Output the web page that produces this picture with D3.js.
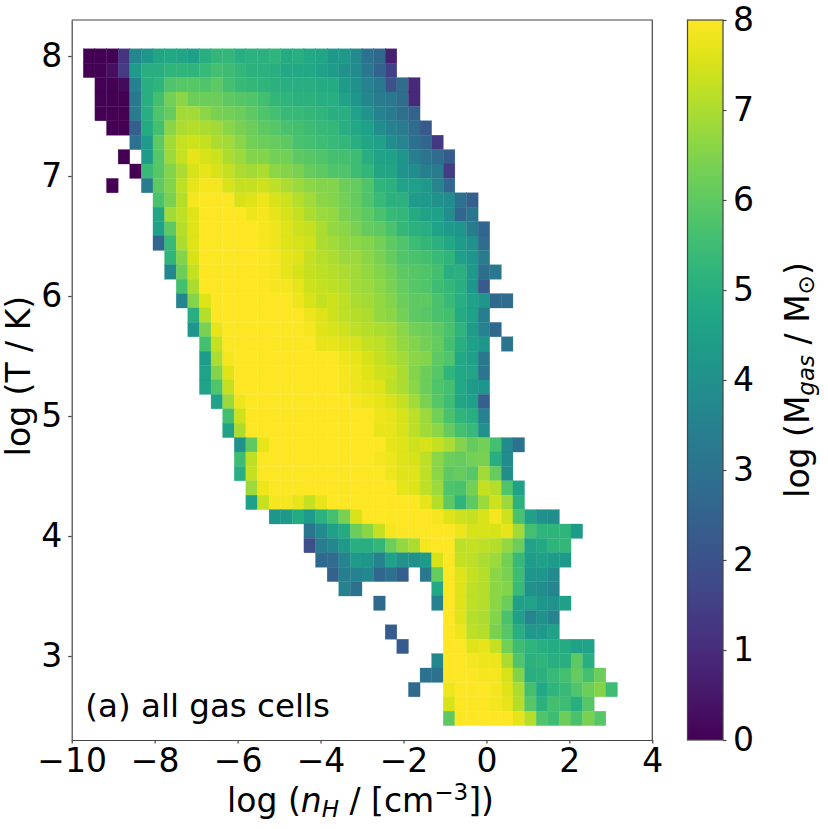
<!DOCTYPE html>
<html>
<head>
<meta charset="utf-8">
<script src="https://cdn.jsdelivr.net/npm/d3@7"></script>
<style>
body { margin: 0; background: #fff; }
text { font-family: "DejaVu Sans", sans-serif; fill: #000; }
.tick text { font-size: 33px; }
.domain, .tick line { stroke: #444; stroke-width: 1.2px; }
</style>
</head>
<body>
<div id="chart"></div>
<script>
// 2d histogram, 50x50 bins over the axis ranges
var xTicks = [-10, -8, -6, -4, -2, 0, 2, 4];
var yTicks = [3, 4, 5, 6, 7, 8];
var cbarTicks = [0, 1, 2, 3, 4, 5, 6, 7, 8];
var xRange = [-10, 4];
var yRange = [2.3, 8.3];
var nBins = 50;
var topRow = 47; // bin index (from the bottom) of the first row below

// first filled x bin of each row, top row first
var rowStart = [1,1,2,2,2,3,5,4,5,3,7,7,7,7,8,8,9,9,10,10,11,11,11,11,12,13,13,14,14,14,15,15,17,20,20,21,22,23,26,32,27,28,31,30,29,32,32];

// log gas mass per bin, null = empty bin
var r00 = [0,0,0,1.2,3.7,4.2,4.7,4.8,4.7,4.5,5.0,5.3,5.3,5.0,5.1,5.1,5.2,4.9,5.0,4.8,4.7,4.3,4.3,3.8,3.0,2.7,0.7];
var r01 = [0,0,0.3,1.4,4.4,5.0,5.0,5.2,5.2,5.2,5.4,5.6,5.5,5.3,5.1,5.1,5.0,4.8,4.8,4.8,4.6,4.4,4.0,3.8,3.2,2.5,1.5];
var r02 = [0,0,0.2,3.5,5.0,5.2,5.8,5.9,5.9,5.8,6.0,5.6,5.4,5.3,5.2,5.1,5.0,5.0,5.0,4.9,4.9,4.4,4.0,3.5,3.2,2.0,2.8,0.9];
var r03 = [0,0,0,3.2,5.0,5.6,6.3,6.6,6.2,6.2,6.2,6.0,5.9,5.8,5.6,5.3,5.2,5.1,5.1,5.0,5.0,4.6,4.2,3.7,3.3,3.2,2.8,0.9];
var r04 = [0,0,0,3.3,5.0,5.8,6.1,6.9,6.9,6.6,6.4,6.3,6.2,6.0,5.8,5.6,5.4,5.4,5.3,5.2,5.0,5.0,4.6,4.1,3.5,3.3,2.9,2.5];
var r05 = [0,0,2.4,4.9,5.6,6.6,7.0,7.1,7.0,6.9,6.6,6.4,6.2,6.0,5.9,5.7,5.6,5.5,5.4,5.3,5.0,4.8,4.5,3.9,3.5,3.3,2.8,2.2];
var r06 = [3.0,4.3,6.0,6.9,7.3,7.4,7.3,7.0,6.9,6.6,6.3,6.2,6.1,6.0,5.7,5.6,5.5,5.4,5.3,5.0,4.7,4.5,3.9,3.6,3.0,2.6,1.3];
var r07 = [0,null,4.4,5.9,6.8,7.3,7.7,7.5,7.4,7.0,6.8,6.5,6.5,6.3,6.3,6.0,5.9,5.8,5.6,5.6,5.5,5.0,4.6,4.6,4.2,3.4,3.1,2.8,2.3];
var r08 = [0,5.4,5.9,6.5,7.0,7.5,7.7,7.5,7.3,7.0,6.9,7.0,6.6,6.5,6.4,6.1,6.0,5.8,5.8,5.5,5.3,4.7,4.7,4.1,3.9,3.4,3.3,1.4];
var r09 = [0,null,null,3.3,6.0,6.5,7.2,7.7,7.9,7.9,7.5,7.3,7.3,7.4,7.2,7.0,6.8,6.6,6.5,6.5,6.2,6.1,5.8,5.2,5.1,4.6,4.5,4.3,3.6,2.6];
var r10 = [5.7,6.4,7.1,7.9,8,8,8,7.5,7.6,7.8,7.5,7.4,7.1,6.9,6.6,6.5,6.3,6.1,5.8,5.4,5.1,5.1,4.4,4.3,4.0,3.9,3.0,2.4];
var r11 = [4.7,6.9,7.2,7.6,8,8,8,8,7.8,7.9,7.7,7.5,7.3,7.0,6.8,6.7,6.4,6.2,6.0,5.7,5.4,5.3,4.9,4.6,4.5,3.9,2.6,3.1];
var r12 = [4.5,6.0,7.1,7.6,8,8,8,8,8,7.9,7.8,7.6,7.4,7.3,7.0,6.7,6.6,6.4,6.1,6.0,5.7,5.3,5.1,5.0,4.6,4.3,4.2,3.3,2.6];
var r13 = [2.6,5.4,7.0,7.6,8,8,8,8,8,7.9,7.8,7.6,7.5,7.4,7.0,6.9,6.7,6.6,6.5,6.3,6.0,5.8,5.5,5.3,5.1,4.8,4.4,4.0,2.8];
var r14 = [5.2,6.5,7.5,8,8,8,8,8,8,7.9,7.7,7.6,7.3,7.1,7.0,6.8,6.8,6.6,6.4,6.1,5.8,5.7,5.6,5.4,5.2,4.5,4.2,3.3];
var r15 = [3.7,6.2,7.3,8,8,8,8,8,8,7.9,7.7,7.5,7.3,7.2,7.1,7.0,6.9,6.7,6.5,6.3,6.0,5.9,5.8,5.6,5.0,5.1,4.3,2.9,3.2];
var r16 = [5.6,7.0,8,8,8,8,8,8,7.9,7.9,7.7,7.4,7.3,7.2,7.1,6.9,6.8,6.6,6.4,6.1,5.9,5.8,5.5,5.3,5.0,4.2,2.2];
var r17 = [3.6,6.5,7.6,8,8,8,8,8,8,8,7.8,7.5,7.3,7.4,7.2,7.0,6.9,6.7,6.5,6.2,6.0,6.0,5.7,5.4,5.0,4.6,4.2,2.7,2.8];
var r18 = [5.0,7.1,8,8,8,8,8,8,8,8,7.8,7.6,7.4,7.2,7.1,7.0,6.7,6.6,6.3,6.0,5.9,5.7,5.6,4.9,4.6,3.4];
var r19 = [4.2,6.4,7.7,8,8,8,8,8,8,8,7.9,7.6,7.5,7.4,7.2,7.1,7.0,6.9,6.6,6.3,6.2,6.0,5.7,5.2,4.4,3.5,2.7];
var r20 = [5.6,7.3,8,8,8,8,8,8,8,8,7.7,7.7,7.6,7.5,7.3,7.2,7.0,6.7,6.5,6.3,6.1,5.6,5.0,4.5,4.2,null,3.1];
var r21 = [4.4,7.0,7.9,8,8,8,8,8,8,8,8,8,7.8,7.7,7.5,7.3,7.1,6.9,6.6,6.5,6.0,5.8,4.8,4.5,3.2];
var r22 = [4.6,6.5,7.6,8,8,8,8,8,8,8,8,8,7.9,7.8,7.6,7.4,7.3,7.0,6.5,6.2,5.9,5.2,4.8,4.7,3.1];
var r23 = [4.6,5.8,7.3,8,8,8,8,8,8,8,8,8,7.9,7.8,7.7,7.6,7.2,7.0,6.6,6.2,5.8,5.6,4.8,4.4,4.2];
var r24 = [4.6,6.8,7.8,8,8,8,8,8,8,8,8,8,7.9,7.8,7.7,7.5,7.3,6.9,6.4,5.9,5.5,4.7,4.5,2.4];
var r25 = [5.6,7.4,8,8,8,8,8,8,8,8,8,8,8,7.8,7.7,7.5,7.2,6.8,6.3,5.7,5.2,5.0,3.5];
var r26 = [4.6,7.0,8,8,8,8,8,8,8,8,8,8,8,7.7,7.7,7.5,7.2,6.9,6.6,6.1,5.6,5.4,4.0];
var r27 = [4.0,6.0,7.7,8,8,8,8,8,8,8,8,8,8,7.7,7.6,7.4,7.5,7.3,7.0,6.5,6.1,6.3,5.6,3.8,3.0];
var r28 = [5.5,7.2,8,8,8,8,8,8,8,8,8,8,7.9,7.8,7.6,7.5,7.2,6.6,6.2,6.1,6.3,6.4,5.0,3.8];
var r29 = [5.0,7.3,8,8,8,8,8,8,8,8,8,8,8,7.8,7.6,7.6,7.2,6.6,6.0,6.1,5.9,6.9,6.1,3.9];
var r30 = [6.8,7.8,8,8,8,8,8,8,8,8,8,8,8,7.7,7.6,7.2,6.8,5.8,5.7,6.3,7.3,7.1,5.8,4.6];
var r31 = [4.5,7.3,7.9,7.9,7.7,7.3,7.7,8,8,8,8,8,8,8,8,7.7,7.1,6.0,5.2,6.0,6.8,7.4,6.8,5.1];
var r32 = [4.2,4.3,4.9,4.3,5.1,5.6,6.4,7.5,8,8,8,8,8,8,7.9,7.6,7.4,7.3,7.5,7.9,7.4,5.7,4.5,4.0,3.9];
var r33 = [3.1,3.8,4.5,4.9,6.2,6.6,7.3,7.9,8,8,8,8,8,7.8,7.5,7.5,7.5,7.7,6.9,5.6,5.2,5.2,5.2,4.4];
var r34 = [1.9,3.4,3.7,4.3,5.0,5.0,5.3,6.2,6.7,7.0,7.9,8,8,7.2,7.3,7.2,7.1,6.7,6.2,4.6,4.8,5.2,5.3];
var r35 = [2.7,2.8,3.6,4.3,4.2,3.5,4.6,4.0,4.0,4.3,7.5,8,7.3,7.2,7.0,6.8,6.3,5.4,4.4,4.5,4.4,4.3];
var r36 = [2.5,3.4,3.5,3.7,2.6,3.0,2.4,null,3.2,6.1,8,7.6,7.3,7.1,6.6,6.4,5.5,4.2,4.2,3.8];
var r37 = [3.5,3.0,null,null,null,null,null,null,4.8,8,7.6,7.2,7.1,6.6,6.5,5.4,4.0,3.9,3.6];
var r38 = [2.7,null,null,null,null,3.5,8,7.6,7.2,7.1,6.6,6.2,4.5,4.6,4.2,4.1,4.5];
var r39 = [8,7.6,7.1,7.0,6.5,5.7,4.5,3.6,4.0,3.6];
var r40 = [2.3,null,null,null,null,8,7.8,7.2,7.1,6.4,5.9,5.0,4.3,4.3,4.6];
var r41 = [2.3,null,null,null,8,8,7.6,7.7,7.3,6.3,5.5,5.2,5.0,4.9,4.9,4.6,4.6];
var r42 = [3.7,8,8,7.9,7.8,7.8,7.0,5.8,5.1,5.2,5.0,5.0,6.0,5.0];
var r43 = [3.0,3.0,8,8,8,7.9,7.9,7.5,6.5,5.0,5.1,5.4,5.6,6.1,5.6,6.2];
var r44 = [2.7,null,null,7.8,8,8,8,7.9,7.6,7.0,5.6,4.8,5.2,5.4,5.8,6.2,6.5,5.5];
var r45 = [7.5,8,8,8,7.9,7.7,7.1,5.9,5.1,5.6,5.5,5.0,5.9];
var r46 = [6.0,8,8,8,8,8,7.7,7.1,5.8,5.5,6.2,5.7,6.4,5.9];

var rows = [r00,r01,r02,r03,r04,r05,r06,r07,r08,r09,r10,r11,r12,r13,r14,r15,r16,r17,r18,r19,r20,r21,r22,r23,r24,r25,r26,r27,r28,r29,r30,r31,r32,r33,r34,r35,r36,r37,r38,r39,r40,r41,r42,r43,r44,r45,r46];

var cells = [];
rows.forEach(function(row, r) {
  row.forEach(function(v, k) {
    if (v !== null) cells.push({i: rowStart[r] + k, j: topRow - r, v: v});
  });
});

var margin = {top: 20, left: 71.7},
    width = 580.6,
    height = 720;

var svg = d3.select("#chart").append("svg")
    .attr("width", 828)
    .attr("height", 829);

var g = svg.append("g")
    .attr("transform", "translate(" + margin.left + "," + margin.top + ")");

var x = d3.scaleLinear().domain(xRange).range([0, width]);
var y = d3.scaleLinear().domain(yRange).range([height, 0]);
var color = d3.scaleSequential(d3.interpolateViridis).domain([0, 8]).clamp(true);

var dx = (xRange[1] - xRange[0]) / nBins,
    dy = (yRange[1] - yRange[0]) / nBins;

g.selectAll("rect.cell")
  .data(cells)
  .enter()
  .append("rect")
    .attr("class", "cell")
    .attr("x", function(d) { return x(xRange[0] + d.i * dx); })
    .attr("y", function(d) { return y(yRange[0] + (d.j + 1) * dy); })
    .attr("width", x(xRange[0] + dx) - x(xRange[0]))
    .attr("height", y(yRange[0]) - y(yRange[0] + dy))
    .attr("fill", function(d) { return color(d.v); })
    .attr("stroke", function(d) { return color(d.v); })
    .attr("stroke-width", 0.3);

// axes
g.append("g")
  .attr("transform", "translate(0," + height + ")")
  .call(d3.axisBottom(x).tickValues(xTicks).tickSize(3.5).tickSizeOuter(0).tickPadding(5));

g.append("g")
  .call(d3.axisLeft(y).tickValues(yTicks).tickFormat(d3.format("d")).tickSize(3.5).tickSizeOuter(0).tickPadding(6));

// top and right spines
g.append("path")
  .attr("d", "M0,0H" + width + "V" + height)
  .attr("fill", "none")
  .attr("stroke", "#444")
  .attr("stroke-width", 1.2);

g.append("text")
  .attr("x", x(-9.67))
  .attr("y", y(2.49))
  .style("font-size", "32.5px")
  .text("(a) all gas cells");

// x label
var xLabel = svg.append("text")
  .attr("x", 360.5)
  .attr("y", 812)
  .attr("text-anchor", "middle")
  .style("font-size", "33px");
xLabel.append("tspan").text("log (");
xLabel.append("tspan").style("font-style", "italic").text("n");
xLabel.append("tspan").attr("dy", 5).style("font-size", "23px").style("font-style", "italic").text("H");
xLabel.append("tspan").attr("dy", -5).text(" / [cm");
xLabel.append("tspan").attr("dy", -12).style("font-size", "23px").text("\u22123");
xLabel.append("tspan").attr("dy", 12).text("])");

// y label
svg.append("text")
  .attr("transform", "translate(30,376)rotate(-90)")
  .attr("text-anchor", "middle")
  .style("font-size", "33px")
  .text("log (T / K)");

// colorbar
var cbarX = 687.5, cbarW = 35.5;
var stops = d3.range(0, 1.001, 0.05);
var grad = svg.append("defs").append("linearGradient")
  .attr("id", "viridisBar")
  .attr("x1", 0).attr("x2", 0).attr("y1", 1).attr("y2", 0);
grad.selectAll("stop")
  .data(stops)
  .enter()
  .append("stop")
    .attr("offset", function(d) { return d; })
    .attr("stop-color", function(d) { return d3.interpolateViridis(d); });

var cbarScale = d3.scaleLinear().domain([0, 8]).range([margin.top + height, margin.top]);

svg.append("rect")
  .attr("x", cbarX)
  .attr("y", margin.top)
  .attr("width", cbarW)
  .attr("height", height)
  .attr("fill", "url(#viridisBar)")
  .attr("stroke", "#444")
  .attr("stroke-width", 1.2);

svg.append("g")
  .attr("transform", "translate(" + (cbarX + cbarW) + ",0)")
  .call(d3.axisRight(cbarScale).tickValues(cbarTicks).tickSize(3.5).tickSizeOuter(0).tickPadding(6.5))
  .select(".domain").remove();

// colorbar label
var cLabel = svg.append("text")
  .attr("transform", "translate(809,380)rotate(-90)")
  .attr("text-anchor", "middle")
  .style("font-size", "33px");
cLabel.append("tspan").text("log (M");
cLabel.append("tspan").attr("dy", 5).style("font-size", "23px").style("font-style", "italic").text("gas");
cLabel.append("tspan").attr("dy", -5).text(" / M");
cLabel.append("tspan").attr("dy", 5).style("font-size", "23px").text("\u2299");
cLabel.append("tspan").attr("dy", -5).text(")");
</script>
</body>
</html>
